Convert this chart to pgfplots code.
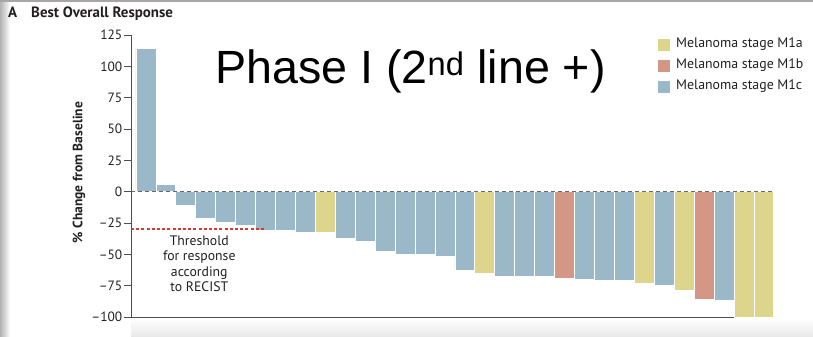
\documentclass[border=0pt]{standalone}
\usepackage{fontspec}
\setmainfont{PT Sans}
\newfontfamily\arialfont{Liberation Sans}
\usepackage{pgfplots}
\pgfplotsset{compat=1.18}
\definecolor{cA}{HTML}{DCD58B}
\definecolor{cB}{HTML}{D49685}
\definecolor{cC}{HTML}{9AB8C8}
\definecolor{axgray}{HTML}{4D4D4D}
\definecolor{txt}{HTML}{231F20}
\definecolor{thr}{HTML}{D23A32}
\begin{document}
\begin{tikzpicture}
\useasboundingbox (-131bp,-20bp) rectangle (682bp,317bp);
\shade[left color=black!30, right color=white] (-131bp,-20bp) rectangle (-121bp,317bp);
\fill[black!35] (-131bp,315bp) rectangle (682bp,317bp);
\shade[top color=white, bottom color=black!9] (0bp,-20bp) rectangle (682bp,-1bp);
\begin{axis}[at={(0,0)}, anchor=south west, scale only axis,
  width=603bp, height=282bp,
  xmin=0.25, xmax=30.5, ymin=-100, ymax=125, clip=false,
  axis lines=left, axis line style={-, draw=axgray, line width=0.9bp},
  xtick=\empty,
  ytick={-100,-75,-50,-25,0,25,50,75,100,125},
  yticklabels={–100,–75,–50,–25,0,25,50,75,100,125},
  tick style={draw=axgray, line width=0.8bp}, major tick length=7bp, tick align=outside,
  yticklabel style={font=\fontsize{13.5}{14}\selectfont, text=txt, inner sep=1.5bp},
  ybar, bar width=1, bar shift=0pt,
  every axis plot/.append style={draw=white, line width=0.8bp},
  legend image code/.code={\fill[#1, draw=none] (0bp,-6bp) rectangle (12bp,6bp);},
  legend cell align=left,
  legend style={at={(0.874,0.986)}, anchor=north west, draw=none, fill=none,
    inner sep=0pt, row sep=8.8bp, font=\fontsize{13.9}{14}\selectfont, text=txt,
    nodes={inner sep=0pt, text height=8.5bp, text depth=3.5bp},
    /tikz/every odd column/.style={column sep=6bp}},
]
\addplot[fill=cA] coordinates {(10,-32.4) (18,-65) (26,-73) (28,-79) (31,-100) (32,-100)};
\addlegendentry{Melanoma stage M1a}
\addplot[fill=cB] coordinates {(22,-69) (29,-86)};
\addlegendentry{Melanoma stage M1b}
\addplot[fill=cC] coordinates {(1,114.4) (2,5.5) (3,-10.6) (4,-21.2) (5,-24.4) (6,-26.6)
  (7,-30.8) (8,-30.8) (9,-32.4) (11,-37) (12,-40) (13,-48) (14,-50) (15,-50) (16,-52)
  (17,-62.5) (19,-68) (20,-68) (21,-68) (23,-70) (24,-71) (25,-71) (27,-75) (30,-87)};
\addlegendentry{Melanoma stage M1c}
\draw[axgray!85, dash pattern=on 4bp off 3bp, line width=1.1bp] (axis cs:0.25,0) -- (axis cs:32.5,0);
\draw[thr, dash pattern=on 3bp off 2.2bp, line width=1.6bp] (axis cs:0.25,-30) -- (axis cs:7,-30);
\node[align=center, anchor=north, inner sep=0pt, font=\fontsize{13.8}{15.4}\selectfont, text=txt]
  at (axis cs:3.675,-35.0) {Threshold\\for response\\according\\to RECIST};
\end{axis}
\node[anchor=base west, inner sep=0pt, font=\arialfont\fontsize{46.8}{52}\selectfont] at (84bp,233bp) {Phase I (2\textsuperscript{nd} line +)};
\node[anchor=base west, inner sep=0pt, font=\bfseries\fontsize{15}{16}\selectfont, text=txt] at (-123bp,299bp) {A};
\node[anchor=base west, inner sep=0pt, font=\bfseries\fontsize{15}{16}\selectfont, text=txt] at (-100bp,299bp) {Best Overall Response};
\node[rotate=90, inner sep=0pt, font=\bfseries\fontsize{13.6}{15}\selectfont, text=txt] at (-52bp,144.5bp) {\% Change from Baseline};
\end{tikzpicture}
\end{document}
